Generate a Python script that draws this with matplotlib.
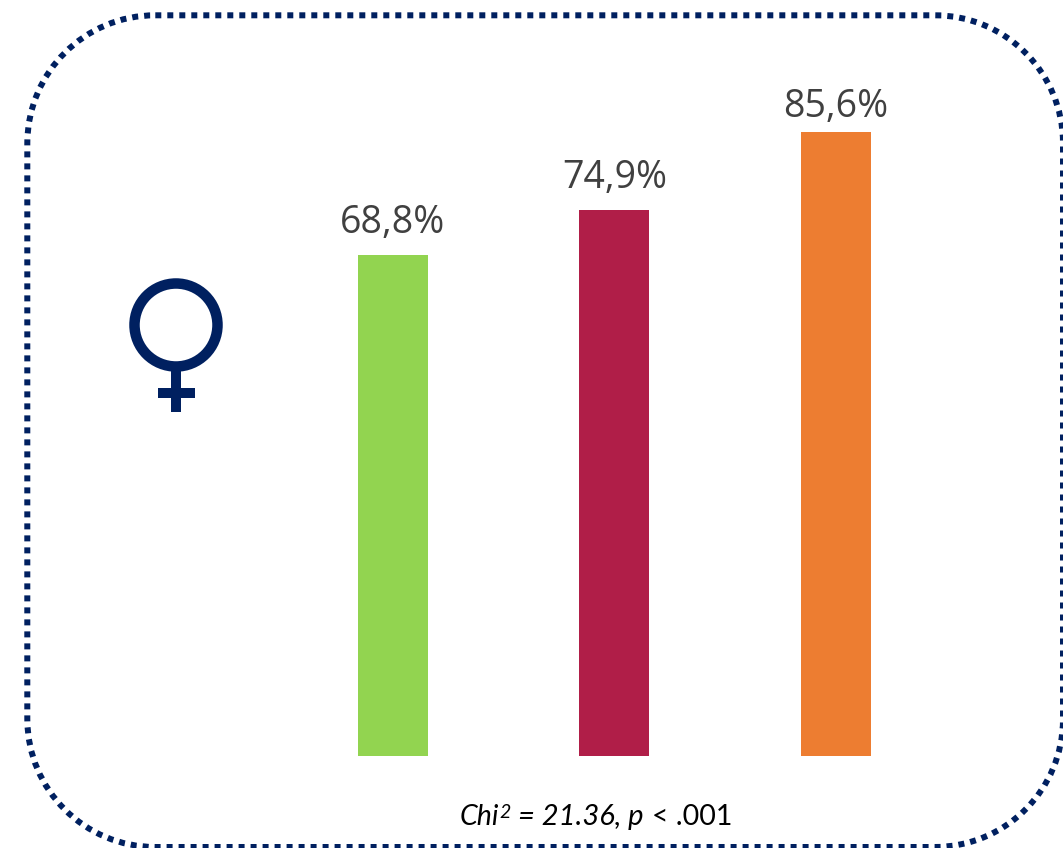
import matplotlib
matplotlib.use("Agg")
import matplotlib.pyplot as plt
from matplotlib.path import Path
from matplotlib.patches import PathPatch, Circle, Rectangle

values = [68.8, 74.9, 85.6]
labels = ["68,8%", "74,9%", "85,6%"]
colors = ["#92D450", "#B01E48", "#ED7D31"]

W, H = 1063, 848
NAVY = "#002060"
fig = plt.figure(figsize=(W / 100, H / 100), dpi=100, facecolor="white")

deco = fig.add_axes([0, 0, 1, 1])
deco.set_xlim(0, W)
deco.set_ylim(H, 0)
deco.axis("off")

L, T, R, B, r = 27.3, 15.3, 1063, 847, 128
k = 0.5523 * r
verts = [(L + r, T), (R - r, T),
         (R - r + k, T), (R, T + r - k), (R, T + r),
         (R, B - r),
         (R, B - r + k), (R - r + k, B), (R - r, B),
         (L + r, B),
         (L + r - k, B), (L, B - r + k), (L, B - r),
         (L, T + r),
         (L, T + r - k), (L + r - k, T), (L + r, T)]
codes = [Path.MOVETO, Path.LINETO,
         Path.CURVE4, Path.CURVE4, Path.CURVE4,
         Path.LINETO,
         Path.CURVE4, Path.CURVE4, Path.CURVE4,
         Path.LINETO,
         Path.CURVE4, Path.CURVE4, Path.CURVE4,
         Path.LINETO,
         Path.CURVE4, Path.CURVE4, Path.CURVE4]
lw = 6 * 0.72
frame = PathPatch(Path(verts, codes), fill=False, edgecolor=NAVY, lw=lw,
                  capstyle="butt", joinstyle="miter",
                  linestyle=(0, (1.0, 1.0)))
deco.add_patch(frame)

deco.add_patch(Circle((176, 325), 41.5, fill=False, edgecolor=NAVY, lw=10.5 * 0.72))
deco.add_patch(Rectangle((171, 368), 10, 44, facecolor=NAVY, edgecolor="none"))
deco.add_patch(Rectangle((158.3, 388.3), 36.4, 10, facecolor=NAVY, edgecolor="none"))

base_px = 756.3
ax = fig.add_axes([282.2 / W, (H - base_px) / H, 664.5 / W, 729 / H])
ax.set_xlim(-0.5, 2.5)
ax.set_ylim(0, 100)
ax.axis("off")
ax.patch.set_alpha(0)
x = range(len(values))
ax.bar(x, values, width=0.316, color=colors)
label_gaps = (9.5, 9.5, 4.5)
for xi, v, t, gap in zip(x, values, labels, label_gaps):
    ax.annotate(t, (xi, v), xytext=(0, gap), textcoords="offset points",
                ha="center", va="bottom", fontsize=27, color="#404040",
                family="Open Sans")

FS = 20.5
deco.text(460, 825, "Chi", ha="left", va="baseline", fontsize=FS,
          style="italic", family="Lato", color="black")
deco.text(499.5, 818, "2", ha="left", va="baseline", fontsize=14,
          style="italic", family="Lato", color="black")
deco.text(643, 825, "= 21.36, p", ha="right", va="baseline", fontsize=FS + 0.5,
          style="italic", family="Lato", color="black")
deco.text(652, 825, "< .001", ha="left", va="baseline", fontsize=FS,
          family="Lato", color="black")

fig.savefig("out.png", dpi=100, facecolor="white")
